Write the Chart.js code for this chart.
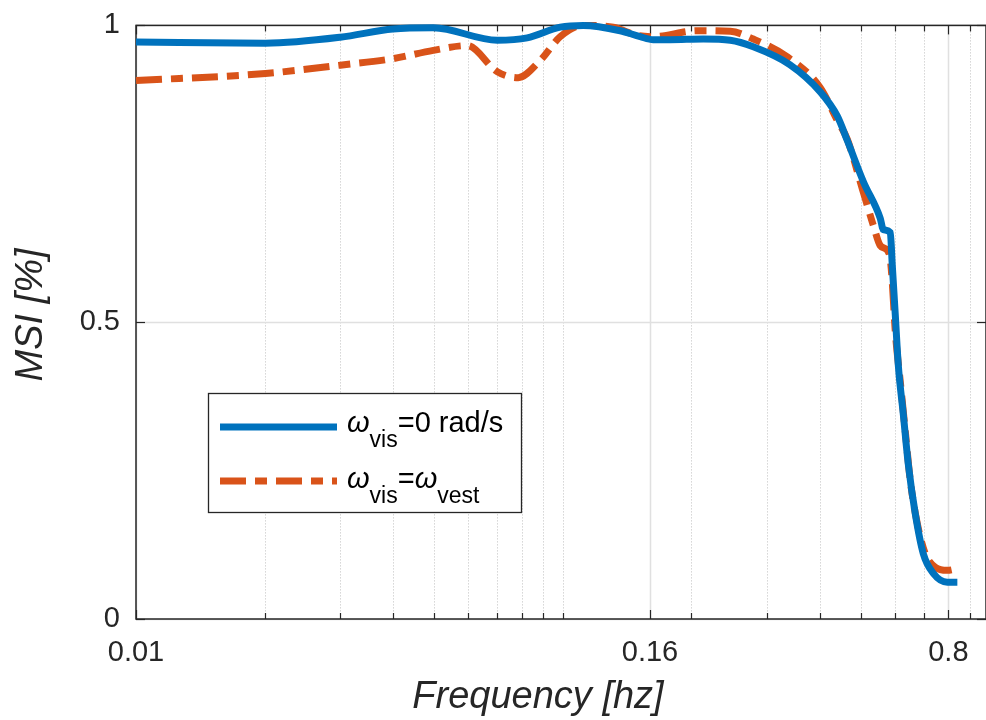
<!DOCTYPE html>
<html>
<head>
<meta charset="utf-8">
<title>MSI vs Frequency</title>
<script src="https://cdn.jsdelivr.net/npm/chart.js@4.4.1/dist/chart.umd.min.js"></script>
<style>
    html, body { margin: 0; padding: 0; background: #ffffff; }
    #wrap { position: relative; width: 986px; height: 720px; }
</style>
</head>
<body>
<div id="wrap"><canvas id="msiChart" width="986" height="720"></canvas></div>
<script>
// Values (frequency in hz, MSI)
const freqVis0 = [0.0100, 0.0201, 0.0301, 0.0400, 0.0497, 0.0702, 0.0825, 0.0986, 0.1116, 0.1362,
    0.1518, 0.1628, 0.1784, 0.2132, 0.2467, 0.2793, 0.3400, 0.4009, 0.4395, 0.4638,
    0.5056, 0.5540, 0.5631, 0.5848, 0.5911, 0.6008, 0.6106, 0.6273, 0.6444, 0.6693,
    0.6988, 0.7376, 0.7954, 0.8397];
const msiVis0 = [0.972, 0.970, 0.980, 0.994, 0.996, 0.975, 0.979, 0.997, 1.000, 0.991,
    0.981, 0.976, 0.976, 0.977, 0.975, 0.964, 0.934, 0.888, 0.847, 0.806,
    0.737, 0.675, 0.656, 0.651, 0.596, 0.512, 0.428, 0.345, 0.261, 0.177,
    0.110, 0.077, 0.062, 0.062];

const freqVisVest = [0.0100, 0.0201, 0.0301, 0.0400, 0.0497, 0.0597, 0.0702, 0.0786, 0.0885, 0.0986,
    0.1116, 0.1312, 0.1494, 0.1628, 0.2064, 0.2467, 0.2793, 0.3356, 0.4009, 0.4395,
    0.4638, 0.5028, 0.5337, 0.5540, 0.5754, 0.5848, 0.5911, 0.6008, 0.6172, 0.6341,
    0.6515, 0.6765, 0.7064, 0.7457, 0.7954, 0.8397];
const msiVisVest = [0.907, 0.919, 0.933, 0.944, 0.958, 0.966, 0.922, 0.912, 0.941, 0.981,
    1.000, 0.997, 0.983, 0.981, 0.991, 0.990, 0.977, 0.947, 0.895, 0.840,
    0.808, 0.725, 0.663, 0.629, 0.621, 0.606, 0.567, 0.484, 0.400, 0.316,
    0.233, 0.161, 0.110, 0.087, 0.082, 0.085];

// Axis ticks
const xTickValues = [0.01, 0.16, 0.8];
const xTickLabels = ["0.01", "0.16", "0.8"];
const xMinorTicks = [0.02, 0.03, 0.04, 0.05, 0.06, 0.07, 0.08, 0.09, 0.1,
    0.2, 0.3, 0.4, 0.5, 0.6, 0.7, 0.9];
const yTickValues = [0, 0.5, 1];
const yTickLabels = ["0", "0.5", "1"];

const blue = "#0072BD";
const orange = "#D95319";
const axisColor = "#262626";
const fontFamily = "'Liberation Sans', Arial, Helvetica, sans-serif";
const orangeDash = [26, 9, 12, 9];

function toPoints(xs, ys) {
    return xs.map((f, i) => ({ x: f, y: ys[i] }));
}

function strokeLine(ctx, x1, y1, x2, y2) {
    ctx.beginPath();
    ctx.moveTo(x1, y1);
    ctx.lineTo(x2, y2);
    ctx.stroke();
}

// draws text runs left to right, subscripts dropped below the baseline
function drawRich(ctx, parts, x, baseline) {
    parts.forEach(p => {
        const size = p.sub ? 23 : 29;
        ctx.font = (p.italic ? "italic " : "") + size + "px " + fontFamily;
        ctx.fillText(p.text, x, baseline + (p.sub ? 15 : 0));
        x += ctx.measureText(p.text).width;
    });
}

// MATLAB-like box, grid, inward ticks, legend and axis titles
const matlabAxes = {
    id: "matlabAxes",
    beforeDatasetsDraw(chart) {
        const { ctx, chartArea: a, scales: { x, y } } = chart;
        ctx.save();

        // minor grid (dotted)
        ctx.lineWidth = 1;
        ctx.strokeStyle = "rgba(0,0,0,0.25)";
        ctx.setLineDash([1, 2]);
        xMinorTicks.forEach(v => {
            const px = Math.round(x.getPixelForValue(v)) + 0.5;
            strokeLine(ctx, px, a.top, px, a.bottom);
        });

        // major grid (solid, light)
        ctx.setLineDash([]);
        ctx.strokeStyle = "#e0e0e0";
        ctx.lineWidth = 1.5;
        xTickValues.forEach(v => {
            const px = Math.round(x.getPixelForValue(v)) + 0.5;
            strokeLine(ctx, px, a.top, px, a.bottom);
        });
        yTickValues.forEach(v => {
            const py = Math.round(y.getPixelForValue(v)) + 0.5;
            strokeLine(ctx, a.left, py, a.right, py);
        });

        // box
        ctx.strokeStyle = axisColor;
        ctx.lineWidth = 1.5;
        ctx.strokeRect(a.left, a.top, a.right - a.left, a.bottom - a.top);

        // ticks pointing inward
        ctx.lineWidth = 1.2;
        xMinorTicks.forEach(v => {
            const px = Math.round(x.getPixelForValue(v)) + 0.5;
            strokeLine(ctx, px, a.bottom, px, a.bottom - 6);
            strokeLine(ctx, px, a.top, px, a.top + 6);
        });
        xTickValues.forEach(v => {
            const px = Math.round(x.getPixelForValue(v)) + 0.5;
            strokeLine(ctx, px, a.bottom, px, a.bottom - 9);
            strokeLine(ctx, px, a.top, px, a.top + 9);
        });
        yTickValues.forEach(v => {
            const py = Math.round(y.getPixelForValue(v)) + 0.5;
            strokeLine(ctx, a.left, py, a.left + 9, py);
            strokeLine(ctx, a.right, py, a.right - 9, py);
        });
        ctx.restore();
    },
    afterDraw(chart) {
        const ctx = chart.ctx;
        ctx.save();

        // legend box
        ctx.fillStyle = "#ffffff";
        ctx.fillRect(208.5, 393.5, 313, 119);
        ctx.strokeStyle = axisColor;
        ctx.lineWidth = 1.3;
        ctx.strokeRect(208.5, 393.5, 313, 119);

        ctx.lineWidth = 7;
        ctx.lineCap = "butt";
        ctx.strokeStyle = blue;
        strokeLine(ctx, 220, 427, 337, 427);
        ctx.strokeStyle = orange;
        ctx.setLineDash(orangeDash);
        strokeLine(ctx, 220, 481, 337, 481);
        ctx.setLineDash([]);

        ctx.fillStyle = "#000000";
        ctx.textAlign = "left";
        ctx.textBaseline = "alphabetic";
        drawRich(ctx, [
            { text: "\u03C9", italic: true },
            { text: "vis", sub: true },
            { text: "=0 rad/s" }
        ], 347, 432);
        drawRich(ctx, [
            { text: "\u03C9", italic: true },
            { text: "vis", sub: true },
            { text: "=" },
            { text: "\u03C9", italic: true },
            { text: "vest", sub: true }
        ], 347, 488);

        // axis titles
        ctx.fillStyle = axisColor;
        ctx.font = "italic 38px " + fontFamily;
        ctx.textAlign = "center";
        ctx.fillText("Frequency [hz]", 538, 708);

        ctx.translate(42, 315);
        ctx.rotate(-Math.PI / 2);
        ctx.fillText("MSI [%]", 0, 0);
        ctx.restore();
    }
};

const ctx = document.getElementById("msiChart").getContext("2d");
const msiChart = new Chart(ctx, {
    type: "line",
    data: {
        datasets: [{
            label: "vis = 0 rad/s",
            data: toPoints(freqVis0, msiVis0),
            borderColor: blue,
            borderWidth: 7,
            clip: 6
        }, {
            label: "vis = vest",
            data: toPoints(freqVisVest, msiVisVest),
            borderColor: orange,
            borderWidth: 7,
            borderDash: orangeDash,
            clip: 6
        }]
    },
    options: {
        responsive: false,
        animation: false,
        devicePixelRatio: 1,
        layout: { padding: { left: 0, right: 0, top: 21, bottom: 0 } },
        elements: {
            point: { radius: 0 },
            line: { cubicInterpolationMode: "monotone", fill: false, borderCapStyle: "butt", borderJoinStyle: "round" }
        },
        plugins: {
            legend: { display: false },
            tooltip: { enabled: false }
        },
        scales: {
            x: {
                type: "logarithmic",
                min: 0.01,
                max: 0.98,
                grid: { display: false },
                border: { display: false },
                afterBuildTicks: scale => { scale.ticks = xTickValues.map(v => ({ value: v })); },
                afterFit: scale => { scale.height = 101; },
                ticks: {
                    autoSkip: false,
                    maxRotation: 0,
                    padding: 9,
                    color: axisColor,
                    font: { family: fontFamily, size: 29 },
                    callback: (value, index) => xTickLabels[index]
                }
            },
            y: {
                min: 0,
                max: 1,
                grid: { display: false },
                border: { display: false },
                afterBuildTicks: scale => { scale.ticks = yTickValues.map(v => ({ value: v })); },
                afterFit: scale => { scale.width = 136; },
                ticks: {
                    padding: 8,
                    color: axisColor,
                    font: { family: fontFamily, size: 29 },
                    callback: (value, index) => yTickLabels[index]
                }
            }
        }
    },
    plugins: [matlabAxes]
});
</script>
</body>
</html>
